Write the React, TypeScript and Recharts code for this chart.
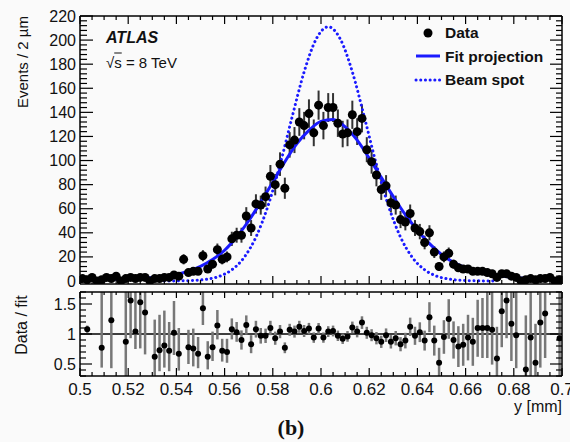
import { ComposedChart, Scatter, Line, XAxis, YAxis, ErrorBar, ReferenceLine } from "recharts";

// 2 um bins from 0.500 to 0.700 mm
const counts = [
  2, 1, 3, 0, 1, 3, 2, 4, 0, 2,
  3, 2, 3, 3, 0, 2, 2, 3, 3, 5,
  4, 18, 7, 8, 8, 21, 10, 14, 26, 18,
  20, 35, 38, 38, 54, 44, 64, 63, 70, 87,
  80, 97, 77, 113, 117, 132, 129, 139, 123, 146,
  129, 144, 144, 131, 122, 123, 138, 124, 135, 109,
  99, 88, 76, 79, 65, 63, 51, 49, 56, 44,
  41, 32, 40, 24, 12, 20, 23, 14, 11, 10,
  10, 8, 8, 8, 7, 6, 3, 6, 6, 4,
  3, 0, 1, 2, 1, 2, 2, 3, 0, 1,
];
const countErr = [
  1.4, 1, 1.7, 0, 1, 1.7, 1.4, 2, 0, 1.4,
  1.7, 1.4, 1.7, 1.7, 0, 1.4, 1.4, 1.7, 1.7, 2.2,
  2, 4.2, 2.6, 2.8, 2.8, 4.6, 3.2, 3.7, 5.1, 4.2,
  4.5, 5.9, 6.2, 6.2, 7.3, 6.6, 8, 7.9, 8.4, 9.3,
  8.9, 9.8, 8.8, 10.6, 10.8, 11.5, 11.4, 11.8, 11.1, 12.1,
  11.4, 12, 12, 11.4, 11, 11.1, 11.7, 11.1, 11.6, 10.4,
  9.9, 9.4, 8.7, 8.9, 8.1, 7.9, 7.1, 7, 7.5, 6.6,
  6.4, 5.7, 6.3, 4.9, 3.5, 4.5, 4.8, 3.7, 3.3, 3.2,
  3.2, 2.8, 2.8, 2.8, 2.6, 2.4, 1.7, 2.4, 2.4, 2,
  1.7, 0, 1, 1.4, 1, 1.4, 1.4, 1.7, 0, 1,
];
const ratio = [
  null, 1.08, null, null, 0.77, null, 1.23, null, null, 0.87,
  1.56, 1.04, 1.53, 1.36, null, 0.62, 0.73, 0.81, 0.72, 1.02,
  0.67, null, 0.78, 0.76, 0.67, 1.43, 0.62, 0.78, 1.14, 0.72,
  0.7, 1.08, 1.03, 0.9, 1.15, 0.83, 1.08, 0.97, 0.97, 1.1,
  0.93, 1.04, 0.77, 1.07, 1.04, 1.12, 1.05, 1.09, 0.94, 1.09,
  0.94, 1.04, 1.05, 0.97, 0.92, 0.96, 1.11, 1.04, 1.19, 1.02,
  0.98, 0.93, 0.87, 0.98, 0.87, 0.93, 0.83, 0.89, 1.12, 0.97,
  1.03, 0.89, 1.28, 0.89, 0.52, 0.95, 1.25, 0.9, 0.79, 0.82,
  0.94, 0.87, 1.1, 1.1, 1.1, 1.07, 0.59, 1.38, 1.56, 1.17,
  0.98, null, 0.41, 0.94, 0.52, 1.19, 1.34, null, null, 0.93,
];
const ratioLo = [
  0, 0.06, 0, 0, 0.33, 0, 0.8, 0, 0, 0.7,
  0.63, 0.29, 0.77, 0.7, 0, 0.5, 0.35, 0.37, 0.34, 0.37,
  0.28, 0, 0.28, 0.3, 0.24, 0.28, 0.21, 0.23, 0.23, 0.18,
  0.18, 0.17, 0.16, 0.16, 0.16, 0.15, 0.14, 0.13, 0.12, 0.12,
  0.11, 0.11, 0.09, 0.1, 0.1, 0.1, 0.1, 0.095, 0.087, 0.093,
  0.086, 0.09, 0.09, 0.087, 0.086, 0.089, 0.097, 0.096, 0.105, 0.1,
  0.1, 0.103, 0.102, 0.113, 0.112, 0.12, 0.118, 0.13, 0.153, 0.151,
  0.165, 0.166, 0.25, 0.25, 0.22, 0.28, 0.33, 0.31, 0.34, 0.35,
  0.38, 0.4, 0.48, 0.5, 0.5, 0.58, 0.4, 0.6, 0.63, 0.62,
  0.55, 0, 0.3, 0.65, 0.4, 0.75, 0.74, 0, 0, 0.7,
];
const ratioHi = [
  0, 0.06, 0, 0, 1.0, 0, 0.8, 0, 0, 0.9,
  0.6, 0.7, 0.5, 0.5, 0, 0.62, 0.59, 0.58, 0.48, 0.53,
  0.43, 0, 0.29, 0.33, 0.28, 0.3, 0.26, 0.26, 0.26, 0.2,
  0.22, 0.18, 0.17, 0.16, 0.16, 0.15, 0.14, 0.13, 0.12, 0.12,
  0.11, 0.11, 0.09, 0.1, 0.1, 0.1, 0.1, 0.095, 0.087, 0.093,
  0.086, 0.09, 0.09, 0.087, 0.086, 0.089, 0.097, 0.096, 0.105, 0.1,
  0.1, 0.103, 0.102, 0.113, 0.112, 0.12, 0.118, 0.13, 0.153, 0.151,
  0.165, 0.166, 0.25, 0.25, 0.25, 0.28, 0.33, 0.31, 0.34, 0.35,
  0.38, 0.4, 0.47, 0.5, 0.7, 0.7, 0.53, 0.8, 0.8, 0.8,
  0.8, 0, 0.9, 0.9, 0.65, 0.9, 0.9, 0, 0, 0.9,
];

// fit projection and beam spot curves
const fitX = [
  0.5, 0.505, 0.51, 0.515, 0.52, 0.525, 0.53, 0.535, 0.54, 0.545,
  0.55, 0.555, 0.56, 0.565, 0.57, 0.575, 0.58, 0.585, 0.59, 0.595,
  0.6, 0.605, 0.61, 0.615, 0.62, 0.625, 0.63, 0.635, 0.64, 0.645,
  0.65, 0.655, 0.66, 0.665, 0.67, 0.675, 0.68, 0.685, 0.69, 0.695, 0.7,
];
const fitY = [
  1.0, 1.1, 1.3, 1.5, 1.8, 2.2, 2.8, 3.8, 5.4, 8.2,
  12.2, 17.8, 25.5, 36.5, 50, 65.5, 82, 99, 114, 125,
  132.5, 134, 128, 117, 102, 86, 70, 55, 42, 31,
  22, 15.5, 11, 7.8, 5.6, 4.1, 3, 2.2, 1.7, 1.3, 1.1,
];
const beamX = [
  0.533, 0.538, 0.543, 0.548, 0.553, 0.558, 0.563, 0.568, 0.573, 0.578,
  0.583, 0.588, 0.593, 0.598, 0.603, 0.608, 0.613, 0.618, 0.623, 0.628,
  0.633, 0.638, 0.643, 0.648, 0.653, 0.658, 0.663, 0.668, 0.673,
];
const beamY = [
  0, 0.05, 0.19, 0.57, 1.6, 4.0, 9.3, 19.3, 36.4, 62.3,
  96.6, 136, 173.6, 200.9, 211, 200.9, 173.6, 136, 96.6, 62.3,
  36.4, 19.3, 9.3, 4.0, 1.6, 0.57, 0.19, 0.05, 0,
];

const xMajor = [0.5, 0.52, 0.54, 0.56, 0.58, 0.6, 0.62, 0.64, 0.66, 0.68, 0.7];
const yMajor = [0, 20, 40, 60, 80, 100, 120, 140, 160, 180, 200, 220];
const ratioMajor = [0.5, 1, 1.5];

const BLUE = "#1a1aff";
const FONT = "'Liberation Sans', Arial, Helvetica, sans-serif";

const binX = counts.map((_, i) => 0.501 + 0.002 * i);
const topPts = counts.map((c, i) => ({ x: binX[i], y: c, e: countErr[i] }));
const ratioPts = ratio
  .map((r, i) =>
    r == null
      ? null
      : { x: binX[i], y: r, e: [Math.min(ratioLo[i], r - 0.3), Math.min(ratioHi[i], 1.7 - r)] }
  )
  .filter(Boolean) as { x: number; y: number; e: number[] }[];
const fitPts = fitX.map((x, i) => ({ x, y: fitY[i] }));
const beamPts = beamX.map((x, i) => ({ x, y: beamY[i] }));

const xTicks = Array.from({ length: 41 }, (_, i) => (500 + 5 * i) / 1000);
const yTicks = Array.from({ length: 56 }, (_, i) => i * 4);
const rTicks = Array.from({ length: 15 }, (_, i) => (3 + i) / 10);

const isMajor = (v: number, list: number[]) => list.some((m) => Math.abs(m - v) < 1e-9);
const fmt = (v: number) => String(Math.round(v * 1000) / 1000);

function makeTick(side: string, majors: number[], big: number, small: number, labels = false) {
  return (p: any) => {
    const { x, y, payload } = p;
    const major = isMajor(payload.value, majors);
    const len = major ? big : small;
    let x2 = x;
    let y2 = y;
    if (side === "left") x2 = x + len;
    if (side === "right") x2 = x - len;
    if (side === "top") y2 = y + len;
    if (side === "bottom") y2 = y - len;
    return (
      <g>
        <line x1={x} y1={y} x2={x2} y2={y2} stroke="#000" strokeWidth={1.2} />
        {labels && major && side === "left" && (
          <text x={x - 4} y={y} dy="0.35em" textAnchor="end" fontSize={16} fontFamily={FONT} fill="#111">
            {fmt(payload.value)}
          </text>
        )}
        {labels && major && side === "bottom" && (
          <text x={x} y={y + 19} textAnchor="middle" fontSize={17} fontFamily={FONT} fill="#111">
            {fmt(payload.value)}
          </text>
        )}
      </g>
    );
  };
}

const Dot = (r: number) => (p: any) => <circle cx={p.cx} cy={p.cy} r={r} fill="#000" />;

const frame = { stroke: "#000", strokeWidth: 1.5 };

function App() {
  return (
    <div
      style={{
        position: "absolute",
        left: 0,
        top: 0,
        width: 570,
        height: 442,
        background: "#fafafa",
        fontFamily: FONT,
        color: "#111",
        overflow: "hidden",
      }}
    >
      <div style={{ position: "absolute", left: 0, top: 0 }}>
        <ComposedChart width={570} height={290} margin={{ top: 0, right: 0, bottom: 0, left: 0 }}>
          <XAxis xAxisId="b" type="number" dataKey="x" domain={[0.5, 0.7]} ticks={xTicks} interval={0}
            allowDataOverflow height={6} tickSize={0} tickMargin={0} axisLine={frame} tickLine={false}
            tick={makeTick("bottom", xMajor, 8, 4)} />
          <XAxis xAxisId="t" orientation="top" type="number" dataKey="x" domain={[0.5, 0.7]} ticks={xTicks}
            interval={0} allowDataOverflow height={16} tickSize={0} tickMargin={0} axisLine={frame}
            tickLine={false} tick={makeTick("top", xMajor, 8, 4)} />
          <YAxis yAxisId="l" type="number" dataKey="y" domain={[-2.5, 220]} ticks={yTicks} interval={0}
            allowDataOverflow width={80} tickSize={0} tickMargin={0} axisLine={frame} tickLine={false}
            tick={makeTick("left", yMajor, 13, 7, true)} />
          <YAxis yAxisId="r" orientation="right" type="number" dataKey="y" domain={[-2.5, 220]} ticks={yTicks}
            interval={0} allowDataOverflow width={8} tickSize={0} tickMargin={0} axisLine={frame}
            tickLine={false} tick={makeTick("right", yMajor, 12, 6)} />
          <Scatter data={topPts} xAxisId="b" yAxisId="l" shape={Dot(4.5)} isAnimationActive={false}>
            <ErrorBar dataKey="e" direction="y" width={0} stroke="#333" strokeWidth={2} />
          </Scatter>
          <Line data={fitPts} dataKey="y" xAxisId="b" yAxisId="l" type="monotone" dot={false}
            stroke={BLUE} strokeWidth={3} isAnimationActive={false} />
          <Line data={beamPts} dataKey="y" xAxisId="b" yAxisId="l" type="monotone" dot={false}
            stroke={BLUE} strokeWidth={3} strokeDasharray="0.1 4.6" strokeLinecap="round"
            isAnimationActive={false} />
        </ComposedChart>
      </div>

      <div style={{ position: "absolute", left: 0, top: 290 }}>
        <ComposedChart width={570} height={152} margin={{ top: 0, right: 0, bottom: 0, left: 0 }}>
          <XAxis xAxisId="b" type="number" dataKey="x" domain={[0.5, 0.7]} ticks={xTicks} interval={0}
            allowDataOverflow height={66} tickSize={0} tickMargin={0} axisLine={frame} tickLine={false}
            tick={makeTick("bottom", xMajor, 8, 4, true)} />
          <XAxis xAxisId="t" orientation="top" type="number" dataKey="x" domain={[0.5, 0.7]} ticks={xTicks}
            interval={0} allowDataOverflow height={2} tickSize={0} tickMargin={0} axisLine={frame}
            tickLine={false} tick={makeTick("top", xMajor, 6, 3)} />
          <YAxis yAxisId="l" type="number" dataKey="y" domain={[0.3, 1.7]} ticks={rTicks} interval={0}
            allowDataOverflow width={80} tickSize={0} tickMargin={0} axisLine={frame} tickLine={false}
            tick={makeTick("left", ratioMajor, 12, 6, true)} />
          <YAxis yAxisId="r" orientation="right" type="number" dataKey="y" domain={[0.3, 1.7]} ticks={rTicks}
            interval={0} allowDataOverflow width={8} tickSize={0} tickMargin={0} axisLine={frame}
            tickLine={false} tick={makeTick("right", ratioMajor, 12, 6)} />
          <ReferenceLine y={1} xAxisId="b" yAxisId="l" stroke="#000" strokeWidth={1.5} />
          <Scatter data={ratioPts} xAxisId="b" yAxisId="l" shape={Dot(3)} isAnimationActive={false}>
            <ErrorBar dataKey="e" direction="y" width={0} stroke="#777" strokeWidth={2.5} />
          </Scatter>
        </ComposedChart>
      </div>

      {/* axis titles */}
      <div style={{ position: "absolute", left: 22, top: 62, transform: "translate(-50%,-50%) rotate(-90deg)",
        whiteSpace: "nowrap", fontSize: 15, lineHeight: 1 }}>
        Events / 2 µm
      </div>
      <div style={{ position: "absolute", left: 22, top: 325, transform: "translate(-50%,-50%) rotate(-90deg)",
        whiteSpace: "nowrap", fontSize: 16, lineHeight: 1 }}>
        Data / fit
      </div>
      <div style={{ position: "absolute", right: 8, top: 407, transform: "translateY(-50%)", fontSize: 16,
        lineHeight: 1, whiteSpace: "nowrap" }}>
        y [mm]
      </div>
      <div style={{ position: "absolute", left: 291, top: 428, transform: "translate(-50%,-50%)",
        fontFamily: "'Liberation Serif', 'Times New Roman', serif", fontWeight: "bold", fontSize: 22, lineHeight: 1 }}>
        (b)
      </div>

      {/* experiment label */}
      <div style={{ position: "absolute", left: 106, top: 38, transform: "translateY(-50%)", fontSize: 16,
        fontWeight: "bold", fontStyle: "italic", lineHeight: 1 }}>
        ATLAS
      </div>
      <div style={{ position: "absolute", left: 106, top: 62, transform: "translateY(-50%)", fontSize: 15,
        lineHeight: 1, whiteSpace: "nowrap" }}>
        √<span style={{ textDecoration: "overline" }}>s</span> = 8 TeV
      </div>

      {/* legend */}
      <svg style={{ position: "absolute", left: 410, top: 20 }} width={36} height={72}>
        <circle cx={18} cy={13} r={4.5} fill="#000" />
        <line x1={6} y1={36} x2={30} y2={36} stroke={BLUE} strokeWidth={3} />
        <line x1={6} y1={60} x2={30} y2={60} stroke={BLUE} strokeWidth={3} strokeDasharray="0.1 4.6"
          strokeLinecap="round" />
      </svg>
      {["Data", "Fit projection", "Beam spot"].map((t, i) => (
        <div key={t} style={{ position: "absolute", left: 445, top: 33 + i * 23.5, transform: "translateY(-50%)",
          fontSize: 15.5, fontWeight: "bold", lineHeight: 1, whiteSpace: "nowrap" }}>
          {t}
        </div>
      ))}
    </div>
  );
}

export default App;
